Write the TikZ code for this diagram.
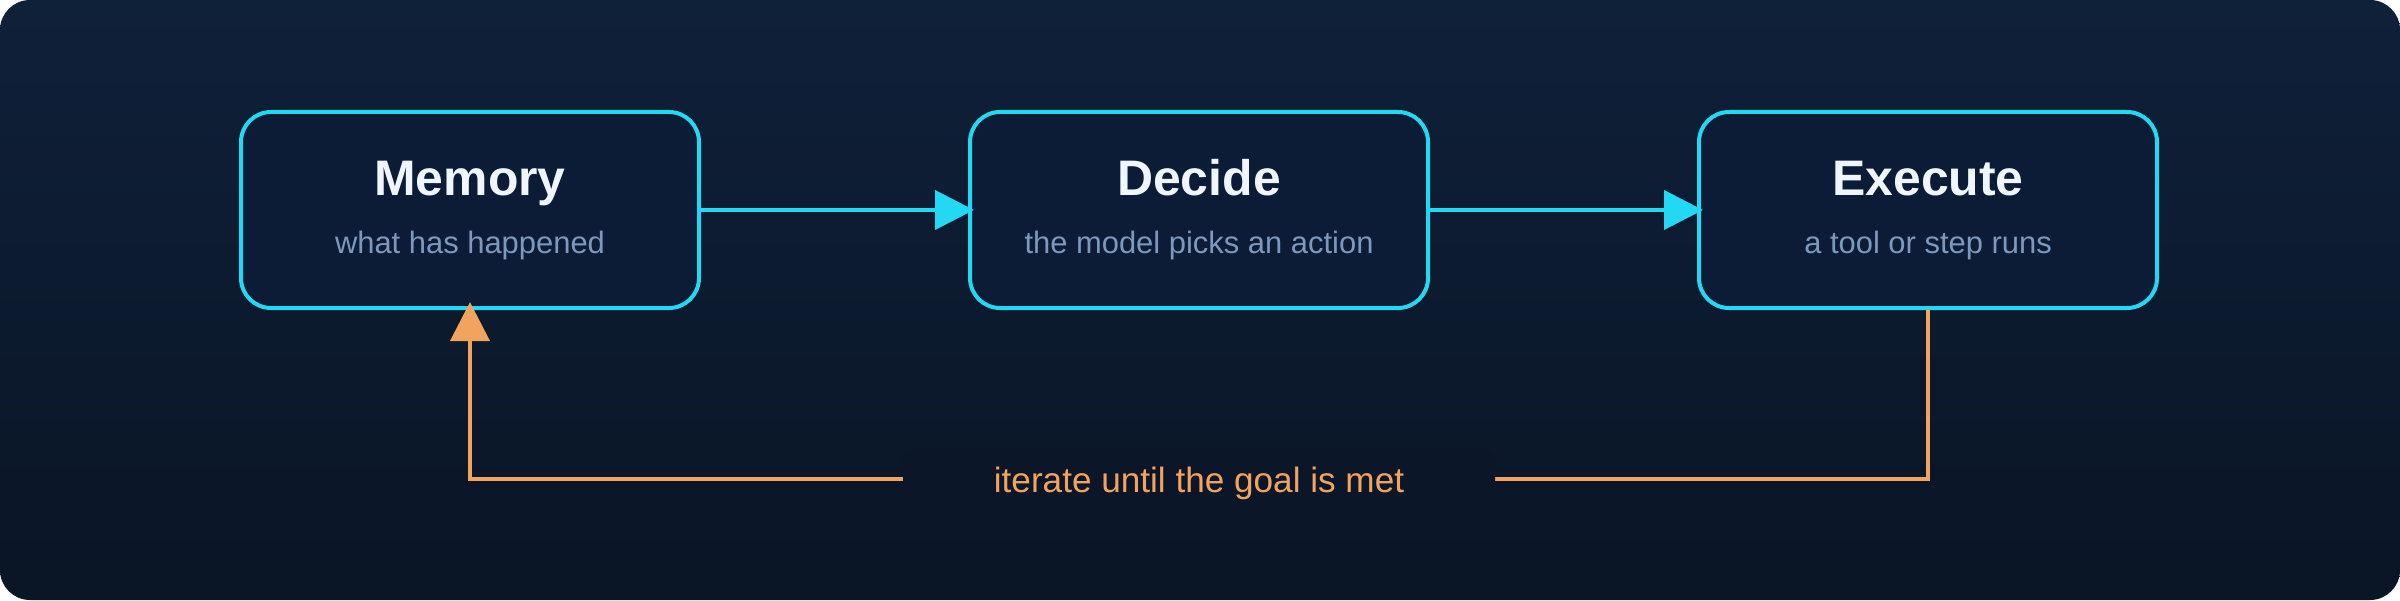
\documentclass[tikz,border=0pt]{standalone}
\usepackage{fontspec}
\setmainfont{Liberation Sans}
\usetikzlibrary{positioning,chains,arrows.meta}
\definecolor{bgtop}{HTML}{0F2039}
\definecolor{bgbottom}{HTML}{0A1525}
\definecolor{boxfill}{HTML}{0C1C36}
\definecolor{loopcyan}{HTML}{22D8F2}
\definecolor{titlewhite}{HTML}{EFF6FF}
\definecolor{subgrey}{HTML}{7C98BC}
\definecolor{looporange}{HTML}{F2A35E}
\definecolor{labelfill}{HTML}{0B1628}

\begin{document}
\begin{tikzpicture}[
stepbox/.style={
  draw=loopcyan,
  line width=0.04cm,
  fill=boxfill,
  rounded corners=0.3cm,
  minimum width=4.58cm,
  minimum height=1.96cm
  },
titletext/.style={anchor=base, text=titlewhite, font=\fontsize{14.2}{18}\selectfont\bfseries},
subtext/.style={anchor=base, text=subgrey, font=\fontsize{8.8}{10}\selectfont},
flowarrow/.style={color=loopcyan, line width=0.04cm, -{Triangle[length=0.39cm,width=0.39cm]}, shorten >=-0.06cm},
backarrow/.style={color=looporange, line width=0.04cm, -{Triangle[length=0.39cm,width=0.39cm]}, shorten >=-0.08cm},
looplabel/.style={
  fill=labelfill,
  rounded corners=0.1cm,
  inner sep=0pt,
  minimum width=5.92cm,
  minimum height=0.59cm,
  text height=0.3cm,
  text depth=0.04cm,
  text=looporange,
  font=\fontsize{10}{12}\selectfont
  },
node distance=2.67cm,
start chain=going right
]
% background
\shade[top color=bgtop, bottom color=bgbottom, rounded corners=0.3cm] (0,0) rectangle (24,6);
\useasboundingbox (0,0) rectangle (24,6);

% the three steps
\node[stepbox, on chain] (mem) at (4.70,3.90) {};
\foreach \Name in {dec,exe}
  \node[stepbox, on chain] (\Name) {};
\foreach \Name/\Title/\Sub in {mem/Memory/what has happened,dec/Decide/the model picks an action,exe/Execute/a tool or step runs}
  {
  \node[titletext] (\Name-title) at ([yshift=0.15cm]\Name.center) {\Title};
  \node[subtext] (\Name-sub) at ([yshift=-0.43cm]\Name.center) {\Sub};
  }

\path[flowarrow]
  (mem) edge (dec)
  (dec) edge (exe);

% feedback loop
\coordinate (turn) at (0,1.21);
\draw[backarrow] (exe.south) -- (exe.south |- turn)
  -- node[looplabel] (iterate) {iterate until the goal is met} (mem.south |- turn)
  -- (mem.south);
\end{tikzpicture}
\end{document}
